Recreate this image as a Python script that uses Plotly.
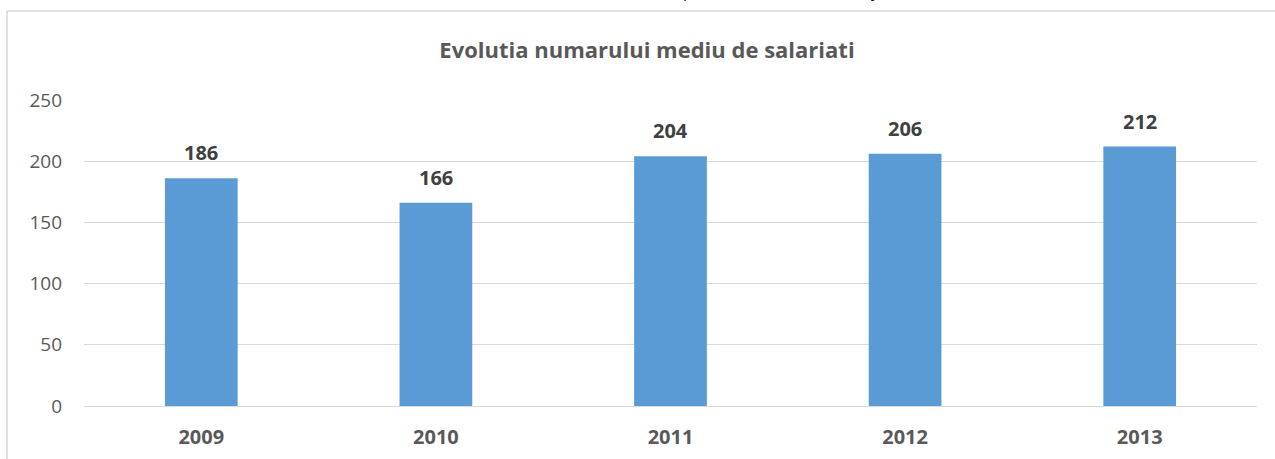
import plotly.graph_objects as go

years = ["2009", "2010", "2011", "2012", "2013"]
employees = [186, 166, 204, 206, 212]
y_ticks = [0, 50, 100, 150, 200, 250]
title_text = "Evolutia numarului mediu de salariati"

W, H = 1275, 459
ML, MR, MT, MB = 84, 18, 100, 53
PW = W - ML - MR
PH = H - MT - MB
FONT = "Open Sans"

fig = go.Figure()
fig.add_trace(go.Bar(
    x=years, y=employees,
    marker=dict(color="#5b9bd5", line=dict(width=0)),
    hoverinfo="x+y",
))

for i, v in enumerate(employees):
    fig.add_annotation(
        x=i, y=v, xref="x", yref="y", text="<b>%d</b>" % v, showarrow=False,
        yanchor="bottom", yshift=10,
        font=dict(family=FONT, size=20, color="#404040"),
    )

# cut-off text fragments at the top
fig.add_annotation(xref="paper", yref="paper", x=(688 - ML) / PW, y=1 + (MT - 4) / PH,
                   text="p", showarrow=False, yanchor="bottom", xanchor="center",
                   font=dict(family=FONT, size=16, color="#000000"))
fig.add_annotation(xref="paper", yref="paper", x=(875 - ML) / PW, y=1 + (MT - 4) / PH,
                   text="y", showarrow=False, yanchor="bottom", xanchor="center",
                   font=dict(family=FONT, size=16, color="#000000"))

# chart area border (partially visible)
bx = (7 - ML) / PW
by = 1 + (MT - 11) / PH
fig.add_shape(type="line", xref="paper", yref="paper", x0=bx, x1=bx, y0=-MB / PH - 0.1, y1=by,
              line=dict(color="#d9d9d9", width=1.5))
fig.add_shape(type="line", xref="paper", yref="paper", x0=bx, x1=1 + (MR + 10) / PW, y0=by, y1=by,
              line=dict(color="#d9d9d9", width=1.5))

fig.update_layout(
    width=W, height=H,
    margin=dict(l=ML, r=MR, t=MT, b=MB),
    paper_bgcolor="white", plot_bgcolor="white",
    showlegend=False,
    title=dict(text="<b>" + title_text + "</b>", x=647 / W, xanchor="center",
               y=1 - 50 / H, yanchor="middle",
               font=dict(family=FONT, size=22, color="#595959")),
    bargap=0.69,
    xaxis=dict(
        type="category", range=[-0.5, 4.5], showgrid=False, showline=False, ticks="",
        tickfont=dict(family=FONT, size=20, color="#595959", weight="bold"),
        ticklabelstandoff=17, automargin=False,
    ),
    yaxis=dict(
        range=[0, 250], tickvals=y_ticks, showgrid=True, gridcolor="#d9d9d9", gridwidth=1.3,
        zeroline=True, zerolinecolor="#d9d9d9", zerolinewidth=1.3,
        showline=False, ticks="",
        tickfont=dict(family=FONT, size=19, color="#595959"),
        ticklabelstandoff=21, automargin=False,
    ),
)

fig.write_html("out.html", config={"displayModeBar": False},
               post_script="document.body.style.margin='0';")
